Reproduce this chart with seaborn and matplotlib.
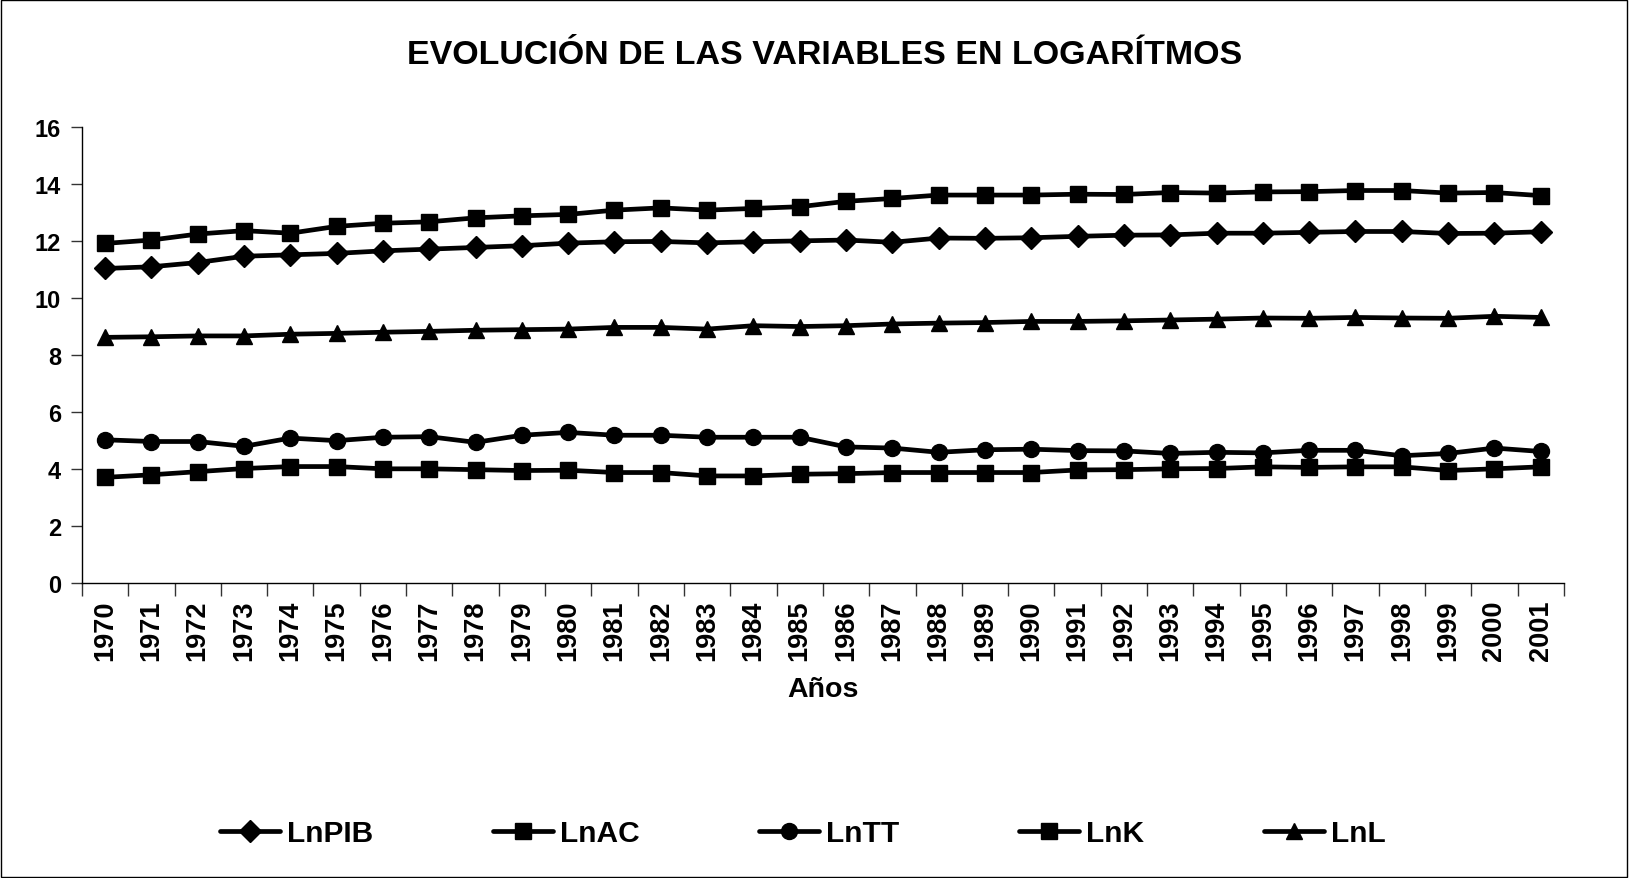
import pandas as pd
import matplotlib
matplotlib.use('Agg')
import matplotlib.pyplot as plt
from matplotlib.patches import Rectangle
import seaborn as sns

years = list(range(1970, 2002))
ln_pib = [11.04, 11.10, 11.25, 11.47, 11.52, 11.57, 11.66, 11.72, 11.78, 11.84,
          11.93, 11.98, 11.99, 11.94, 11.98, 12.01, 12.04, 11.96, 12.11, 12.10,
          12.12, 12.17, 12.21, 12.22, 12.28, 12.28, 12.31, 12.34, 12.34, 12.27,
          12.28, 12.33]
ln_ac = [11.92, 12.04, 12.25, 12.37, 12.28, 12.52, 12.63, 12.68, 12.82, 12.89,
         12.94, 13.09, 13.17, 13.09, 13.15, 13.21, 13.40, 13.50, 13.62, 13.62,
         13.62, 13.65, 13.64, 13.71, 13.69, 13.73, 13.74, 13.78, 13.78, 13.69,
         13.71, 13.60]
ln_tt = [5.02, 4.96, 4.96, 4.79, 5.08, 4.99, 5.11, 5.13, 4.93, 5.18,
         5.28, 5.18, 5.18, 5.11, 5.11, 5.11, 4.77, 4.73, 4.58, 4.67,
         4.69, 4.64, 4.63, 4.54, 4.58, 4.56, 4.65, 4.65, 4.46, 4.54,
         4.73, 4.61]
ln_k = [3.70, 3.79, 3.90, 4.01, 4.08, 4.08, 4.00, 4.00, 3.97, 3.94,
        3.95, 3.87, 3.87, 3.75, 3.75, 3.81, 3.83, 3.87, 3.87, 3.87,
        3.87, 3.96, 3.97, 4.00, 4.01, 4.07, 4.05, 4.07, 4.07, 3.94,
        4.00, 4.07]
ln_l = [8.62, 8.64, 8.67, 8.67, 8.73, 8.76, 8.80, 8.83, 8.87, 8.89,
        8.91, 8.97, 8.97, 8.91, 9.03, 9.00, 9.03, 9.09, 9.12, 9.14,
        9.18, 9.18, 9.20, 9.23, 9.26, 9.30, 9.29, 9.32, 9.30, 9.29,
        9.36, 9.32]

series = ['LnPIB', 'LnAC', 'LnTT', 'LnK', 'LnL']
values = [ln_pib, ln_ac, ln_tt, ln_k, ln_l]
markers = {'LnPIB': 'D', 'LnAC': 's', 'LnTT': 'o', 'LnK': 's', 'LnL': '^'}
msizes = {'LnPIB': 11.5, 'LnAC': 11.5, 'LnTT': 11.5, 'LnK': 11.5, 'LnL': 12}

df = pd.concat([pd.DataFrame({'year': years, 'value': v, 'serie': s})
                for s, v in zip(series, values)], ignore_index=True)

sns.set_style('ticks')
plt.rcParams['font.family'] = ['Liberation Sans', 'DejaVu Sans']
plt.rcParams['font.weight'] = 'bold'
for key in ('text.color', 'axes.labelcolor', 'xtick.color', 'ytick.color', 'axes.edgecolor'):
    plt.rcParams[key] = 'black'

fig = plt.figure(figsize=(16.29, 8.79), dpi=100)
ax = fig.add_axes([0.0503, 0.336, 0.9097, 0.518])

sns.lineplot(data=df, x='year', y='value', hue='serie', style='serie',
             hue_order=series, style_order=series,
             palette=['black'] * 5, markers=markers, dashes=False,
             linewidth=3.4, markeredgecolor='black', markeredgewidth=1, ax=ax)

for line, s in zip(ax.lines, series):
    line.set_markersize(msizes[s])

handles, labels = ax.get_legend_handles_labels()
ax.get_legend().remove()
for h, s in zip(handles, labels):
    h.set_linewidth(3.4)
    h.set_color('black')
    h.set_markerfacecolor('black')
    h.set_markeredgecolor('black')
    h.set_markersize(msizes.get(s, 11.5))
fig.legend(handles, labels, loc='center', bbox_to_anchor=(803 / 1629, 1 - 834 / 879),
           ncol=5, frameon=False, fontsize=21.5, handlelength=2.0,
           handletextpad=0.25, columnspacing=4.0)

ax.set_xlim(1969.5, 2001.5)
ax.set_ylim(0, 16)
ax.set_yticks(range(0, 17, 2))
ax.set_xticks(years)
ax.set_xticklabels([str(y) for y in years], rotation=90, fontsize=19.5, fontweight='bold')
ax.set_xticks([y + 0.5 for y in range(1969, 2002)], minor=True)
ax.tick_params(axis='x', which='major', length=0, pad=12)
ax.tick_params(axis='x', which='minor', length=9, width=1, color='#333333')
ax.tick_params(axis='y', length=8, width=1, color='#333333', labelsize=17, pad=7)
for lab in ax.get_yticklabels():
    lab.set_fontweight('bold')

ax.set_xlabel('Años', fontsize=20.5, fontweight='bold', va='center')
ax.xaxis.set_label_coords(0.5, (583.5 - 690) / 455.2)
ax.set_ylabel('')
sns.despine(ax=ax)
for sp in ('left', 'bottom'):
    ax.spines[sp].set_color('black')
    ax.spines[sp].set_linewidth(1)

fig.suptitle('EVOLUCIÓN DE LAS VARIABLES EN LOGARÍTMOS', x=825 / 1629, y=1 - 56 / 879,
             va='center', fontsize=24.5, fontweight='bold')

fig.patches.append(Rectangle((0.0005, 0.001), 0.9985, 0.998, transform=fig.transFigure,
                             fill=False, edgecolor='black', linewidth=1))

fig.savefig('out.png', dpi=100)
